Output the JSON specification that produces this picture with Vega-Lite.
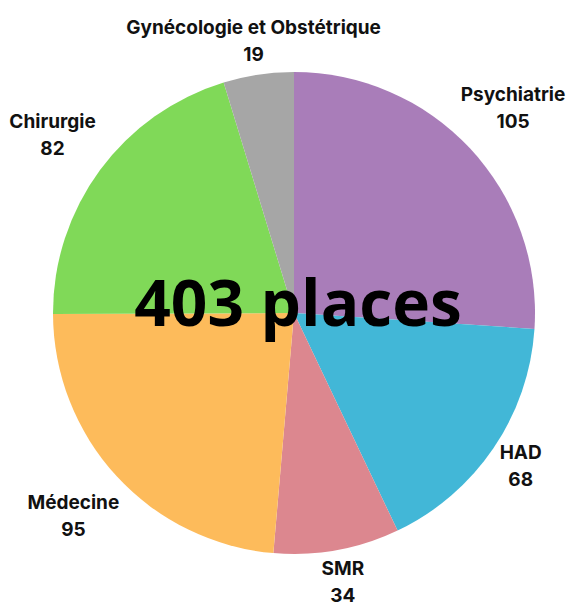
{
  "$schema": "https://vega.github.io/schema/vega-lite/v6.json",
  "width": 588,
  "height": 626,
  "autosize": "none",
  "padding": 0,
  "background": "white",
  "config": {"view": {"stroke": null}},
  "datasets": {
    "services": [
      {"service": "Psychiatrie", "places": 105, "ordre": 1, "label": "Psychiatrie\n105"},
      {"service": "HAD", "places": 68, "ordre": 2, "label": "HAD\n68"},
      {"service": "SMR", "places": 34, "ordre": 3, "label": "SMR\n34"},
      {"service": "Médecine", "places": 95, "ordre": 4, "label": "Médecine\n95"},
      {"service": "Chirurgie", "places": 82, "ordre": 5, "label": "Chirurgie\n82"},
      {"service": "Gynécologie et Obstétrique", "places": 19, "ordre": 6, "label": "Gynécologie et Obstétrique\n19"}
    ],
    "total": [{"t": "403 places"}]
  },
  "layer": [
    {
      "data": {"name": "services"},
      "mark": {"type": "arc", "outerRadius": 241, "stroke": null},
      "encoding": {
        "theta": {"field": "places", "type": "quantitative", "stack": true},
        "order": {"field": "ordre", "type": "quantitative"},
        "color": {
          "field": "service",
          "type": "nominal",
          "legend": null,
          "scale": {
            "domain": ["Psychiatrie", "HAD", "SMR", "Médecine", "Chirurgie", "Gynécologie et Obstétrique"],
            "range": ["#a97db9", "#42b7d7", "#dc878f", "#fdbb5b", "#80d958", "#a6a6a6"]
          }
        }
      }
    },
    {
      "data": {"name": "services"},
      "mark": {"type": "text", "radius": 300, "font": "Inter", "fontWeight": "bold", "fontSize": 19, "lineBreak": "\n", "lineHeight": 27, "align": "center", "baseline": "middle", "dy": -13, "color": "#111111"},
      "encoding": {
        "theta": {"field": "places", "type": "quantitative", "stack": true},
        "order": {"field": "ordre", "type": "quantitative"},
        "text": {"field": "label", "type": "nominal"},
        "opacity": {"condition": {"test": "indexof(['Psychiatrie','Médecine','Chirurgie'], datum.service) >= 0", "value": 1}, "value": 0}
      }
    },
    {
      "data": {"name": "services"},
      "mark": {"type": "text", "radius": 274, "font": "Inter", "fontWeight": "bold", "fontSize": 19, "lineBreak": "\n", "lineHeight": 27, "align": "center", "baseline": "middle", "dy": -14, "color": "#111111"},
      "encoding": {
        "theta": {"field": "places", "type": "quantitative", "stack": true},
        "order": {"field": "ordre", "type": "quantitative"},
        "text": {"field": "label", "type": "nominal"},
        "opacity": {"condition": {"test": "indexof(['HAD','SMR','Gynécologie et Obstétrique'], datum.service) >= 0", "value": 1}, "value": 0}
      }
    },
    {
      "data": {"name": "total"},
      "mark": {"type": "text", "font": "Open Sans", "fontWeight": "bold", "fontSize": 64, "align": "center", "baseline": "middle", "dx": 4, "dy": -6, "color": "black"},
      "encoding": {
        "text": {"field": "t", "type": "nominal"}
      }
    }
  ]
}
